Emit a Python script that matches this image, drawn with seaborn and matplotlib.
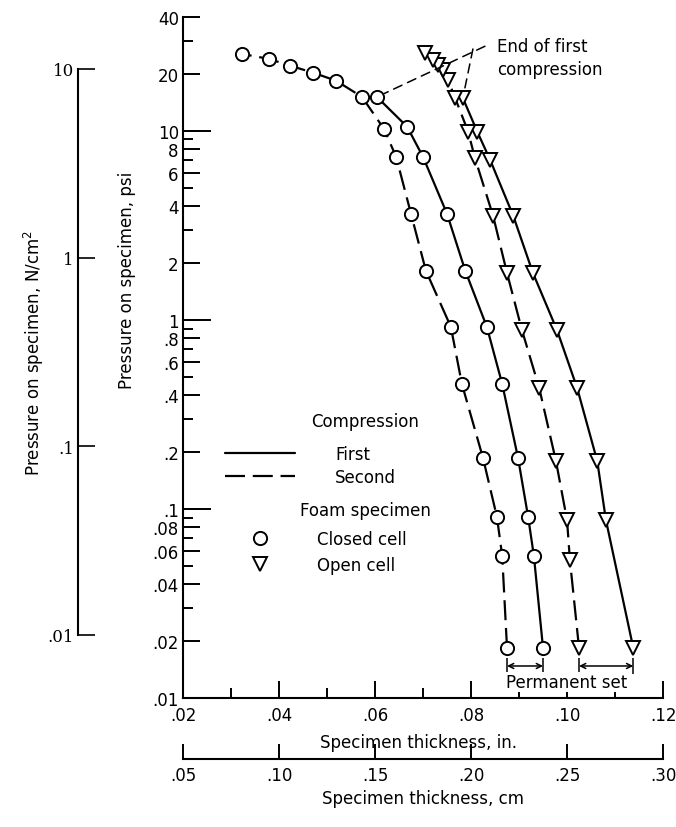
import matplotlib
matplotlib.use('Agg')
import matplotlib.pyplot as plt
import seaborn as sns
from matplotlib.lines import Line2D
from matplotlib.ticker import FixedLocator, FixedFormatter, NullLocator

# closed cell foam, first compression (solid line)
closed_first_in = [0.0950, 0.0931, 0.0919, 0.0898, 0.0865, 0.0833, 0.0788, 0.0750, 0.0700, 0.0667, 0.0604]
closed_first_psi = [0.0184, 0.0564, 0.0907, 0.186, 0.458, 0.918, 1.82, 3.64, 7.28, 10.5, 15.1]

# closed cell foam, second compression (dashed line)
closed_second_in = [0.0875, 0.0865, 0.0854, 0.0825, 0.0781, 0.0758, 0.0706, 0.0675, 0.0644, 0.0619,
                    0.0573, 0.0519, 0.0471, 0.0423, 0.0379, 0.0323]
closed_second_psi = [0.0184, 0.0564, 0.0907, 0.186, 0.458, 0.918, 1.82, 3.64, 7.28, 10.2,
                     15.1, 18.4, 20.3, 22.1, 24.0, 25.5]

# open cell foam, first compression (solid line)
open_first_in = [0.1138, 0.1081, 0.1063, 0.1021, 0.0979, 0.0929, 0.0888, 0.0840, 0.0813, 0.0783]
open_first_psi = [0.0184, 0.0875, 0.179, 0.437, 0.885, 1.77, 3.55, 7.0, 9.9, 14.9]

# open cell foam, second compression (dashed line)
open_second_in = [0.1025, 0.1006, 0.1000, 0.0977, 0.0942, 0.0906, 0.0875, 0.0846, 0.0808, 0.0794,
                  0.0767, 0.0752, 0.0742, 0.0731, 0.0721, 0.0704]
open_second_psi = [0.0184, 0.0537, 0.0875, 0.179, 0.437, 0.885, 1.77, 3.55, 7.2, 9.9,
                   14.9, 18.6, 21.0, 22.3, 23.8, 25.9]

# axis ticks
psi_ticks = [40, 20, 10, 8, 6, 4, 2, 1, .8, .6, .4, .2, .1, .08, .06, .04, .02, .01]
psi_labels = ['40', '20', '10', '8', '6', '4', '2', '1', '.8', '.6', '.4', '.2', '.1',
              '.08', '.06', '.04', '.02', '.01']
psi_minor = [30, 9, 7, 5, 3, .9, .7, .5, .3, .09, .07, .05, .03]
psi_decades = [10, 1, .1]
in_ticks = [.02, .04, .06, .08, .10, .12]
in_labels = ['.02', '.04', '.06', '.08', '.10', '.12']
in_minor = [.03, .05, .07, .09, .11]
cm_ticks = [.05, .10, .15, .20, .25, .30]
cm_labels = ['.05', '.10', '.15', '.20', '.25', '.30']
ncm_ticks = [10, 1, .1, .01]
ncm_labels = ['10', '1', '.1', '.01']

sns.set_style('white')
plt.rcParams['font.family'] = ['DejaVu Sans']
plt.rcParams['font.size'] = 12
plt.rcParams['text.color'] = 'black'
plt.rcParams['axes.labelcolor'] = 'black'
plt.rcParams['xtick.color'] = 'black'
plt.rcParams['ytick.color'] = 'black'

fig = plt.figure(figsize=(6.76, 8.28), dpi=100)
ax = fig.add_axes([0.2707, 0.1558, 0.7101, 0.8225])

solid = '-'
dashed = (0, (9, 3.5))
mk = dict(markerfacecolor='white', markeredgecolor='black', markeredgewidth=1.4, color='black',
          linewidth=1.6, sort=False, estimator=None)

sns.lineplot(x=closed_first_in, y=closed_first_psi, ax=ax, marker='o', markersize=9.5,
             linestyle=solid, **mk)
sns.lineplot(x=closed_second_in, y=closed_second_psi, ax=ax, marker='o', markersize=9.5,
             linestyle=dashed, **mk)
sns.lineplot(x=open_first_in, y=open_first_psi, ax=ax, marker='v', markersize=10.5,
             linestyle=solid, **mk)
sns.lineplot(x=open_second_in, y=open_second_psi, ax=ax, marker='v', markersize=10.5,
             linestyle=dashed, **mk)

ax.set_yscale('log')
ax.set_xlim(0.02, 0.12)
ax.set_ylim(0.01, 40)

for s in ['top', 'right']:
    ax.spines[s].set_visible(False)
for s in ['left', 'bottom']:
    ax.spines[s].set_linewidth(1.5)
    ax.spines[s].set_color('black')

ax.yaxis.set_major_locator(FixedLocator(psi_ticks))
ax.yaxis.set_major_formatter(FixedFormatter(psi_labels))
ax.yaxis.set_minor_locator(FixedLocator(psi_minor))
ax.xaxis.set_major_locator(FixedLocator(in_ticks))
ax.xaxis.set_major_formatter(FixedFormatter(in_labels))
ax.xaxis.set_minor_locator(FixedLocator(in_minor))
ax.tick_params(which='both', left=True, bottom=True)
ax.tick_params(which='major', direction='in', length=12.5, width=1.4, color='black',
               labelsize=12, labelcolor='black')
ax.tick_params(which='minor', direction='in', length=7, width=1.4, color='black')
ax.tick_params(axis='x', which='major', pad=6)
ax.tick_params(axis='y', which='major', pad=3)
# longer ticks at the decades
ax.hlines(psi_decades, 0, 0.058, transform=ax.get_yaxis_transform(), color='black', lw=1.4)

ax.set_xlabel('Specimen thickness, in.', fontsize=12)
ax.xaxis.set_label_coords(0.49, -0.052)
ax.set_ylabel('Pressure on specimen, psi', fontsize=12)
ax.yaxis.set_label_coords(-0.098, 0.615)

# End of first compression leaders
ax.text(0.654, 0.9405, 'End of first\ncompression', transform=ax.transAxes, ha='left',
        va='center', fontsize=12, linespacing=1.4)
ax.annotate('', xy=(closed_first_in[-1], closed_first_psi[-1]), xytext=(0.629, 0.957),
            textcoords='axes fraction',
            arrowprops=dict(arrowstyle='-', linestyle=(0, (6, 4)), lw=1.1, color='black',
                            shrinkA=0, shrinkB=6))
ax.annotate('', xy=(open_first_in[-1], open_first_psi[-1]), xytext=(0.604, 0.953),
            textcoords='axes fraction',
            arrowprops=dict(arrowstyle='-', linestyle=(0, (6, 4)), lw=1.1, color='black',
                            shrinkA=0, shrinkB=6))

# Permanent set
tr = ax.get_xaxis_transform()
for a, b in [(closed_second_in[0], closed_first_in[0]), (open_second_in[0], open_first_in[0])]:
    ax.annotate('', xy=(a, 0.047), xytext=(b, 0.047), xycoords=tr, textcoords=tr,
                arrowprops=dict(arrowstyle='<->', lw=1.1, color='black', shrinkA=0, shrinkB=0,
                                mutation_scale=9))
    ax.vlines([a, b], 0.035, 0.058, transform=tr, color='black', lw=1.1)
ax.text(0.80, 0.0235, 'Permanent set', transform=ax.transAxes, ha='center', va='center',
        fontsize=12, bbox=dict(facecolor='white', edgecolor='none', pad=0.5))

# legend
fig.legend(handles=[Line2D([], [], color='black', lw=1.6, linestyle=solid),
                    Line2D([], [], color='black', lw=1.6, linestyle=dashed)],
           labels=['First', 'Second'], loc='upper left', bbox_to_anchor=(0.3328, 0.4614),
           frameon=False, borderpad=0, borderaxespad=0, handlelength=4.2,
           handletextpad=2.4, labelspacing=0.3, fontsize=12)
fig.legend(handles=[Line2D([], [], color='black', marker='o', linestyle='none', markersize=9.5,
                           markerfacecolor='white', markeredgewidth=1.4),
                    Line2D([], [], color='black', marker='v', linestyle='none', markersize=10.5,
                           markerfacecolor='white', markeredgewidth=1.4)],
           labels=['Closed cell', 'Open cell'], loc='upper left', bbox_to_anchor=(0.3328, 0.3587),
           frameon=False, borderpad=0, borderaxespad=0, handlelength=4.2, numpoints=1,
           handletextpad=1.3, labelspacing=0.5, fontsize=12)
fig.text(365 / 676, 1 - 422 / 828, 'Compression', ha='center', va='center', fontsize=12)
fig.text(365 / 676, 1 - 511 / 828, 'Foam specimen', ha='center', va='center', fontsize=12)

# second x axis, cm
axc = fig.add_axes([0.2707, 1 - 760 / 828, 0.7101, 0.001])
axc.set_xlim(0.05, 0.30)
axc.set_yticks([])
for s in ['top', 'right', 'left']:
    axc.spines[s].set_visible(False)
axc.spines['bottom'].set_linewidth(1.5)
axc.spines['bottom'].set_color('black')
axc.xaxis.set_major_locator(FixedLocator(cm_ticks))
axc.xaxis.set_major_formatter(FixedFormatter(cm_labels))
axc.xaxis.set_minor_locator(NullLocator())
axc.tick_params(axis='x', bottom=True, direction='in', length=11, width=1.4, color='black',
                labelsize=12, labelcolor='black', pad=5)
axc.set_xlabel('Specimen thickness, cm', fontsize=12, labelpad=4)
axc.patch.set_alpha(0)

# left y axis, N/cm2
axn = fig.add_axes([78 / 676, 1 - 636 / 828, 0.02, 566 / 828])
axn.set_yscale('log')
axn.set_ylim(0.01, 10)
axn.set_xticks([])
for s in ['top', 'right', 'bottom']:
    axn.spines[s].set_visible(False)
axn.spines['left'].set_linewidth(1.5)
axn.spines['left'].set_color('black')
axn.yaxis.set_major_locator(FixedLocator(ncm_ticks))
axn.yaxis.set_major_formatter(FixedFormatter(ncm_labels))
axn.yaxis.set_minor_locator(NullLocator())
axn.tick_params(axis='y', left=True, direction='in', length=12, width=1.2, color='black',
                labelsize=12, labelcolor='black', pad=3)
for lbl in axn.get_yticklabels():
    lbl.set_family('DejaVu Serif')
axn.set_ylabel('Pressure on specimen, N/cm$^2$', fontsize=12)
axn.yaxis.set_label_coords(-2.4, 0.5)
axn.patch.set_alpha(0)

fig.savefig('out.png', dpi=100)
